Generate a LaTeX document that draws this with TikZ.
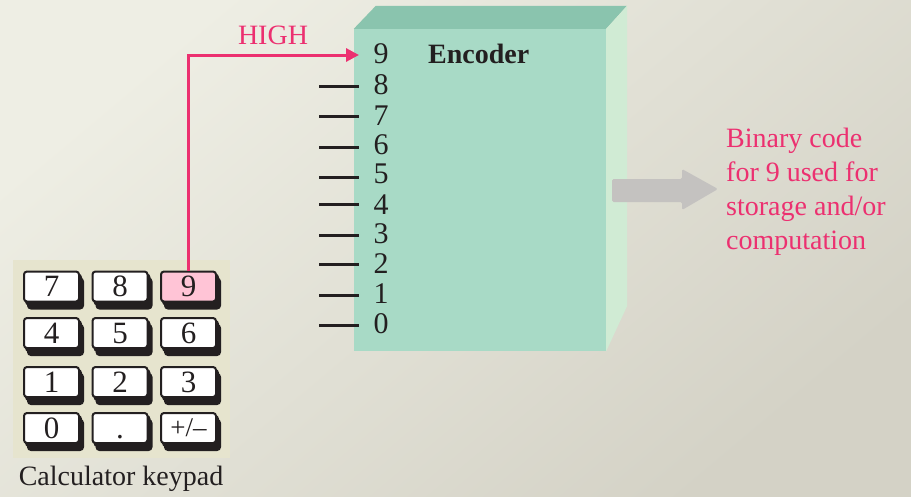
\documentclass[tikz,border=0pt]{standalone}
\usepackage{fontspec}
\setmainfont{Liberation Serif}
\usetikzlibrary{arrows.meta}

\definecolor{bgtop}{RGB}{238,238,228}
\definecolor{bgbot}{RGB}{212,210,198}
\definecolor{padbg}{RGB}{230,228,206}
\definecolor{hot}{RGB}{236,48,112}
\definecolor{keypink}{RGB}{255,196,214}
\definecolor{encfront}{RGB}{168,218,198}
\definecolor{enctop}{RGB}{138,196,174}
\definecolor{encside}{RGB}{208,235,212}
\definecolor{flowgray}{RGB}{196,194,192}
\definecolor{ink}{RGB}{35,31,32}

\begin{document}
\begin{tikzpicture}[x=1pt,y=-1pt,
  keycap/.style={draw=ink, line width=2pt, fill=white, rounded corners=3pt,
    minimum width=55pt, minimum height=30pt, inner sep=0pt,
    font=\fontsize{31}{31}\selectfont, text=ink,
    preaction={fill=ink, draw=ink, transform canvas={shift={(2pt,-3pt)}}},
    preaction={fill=ink, draw=ink, transform canvas={shift={(4pt,-7pt)}}}},
  pinlabel/.style={font=\fontsize{30}{30}\selectfont, text=ink, inner sep=0pt},
  plaintext/.style={font=\fontsize{28}{34}\selectfont, inner sep=0pt},
  stub/.style={draw=ink, line width=3pt},
  highline/.style={draw=hot, line width=3pt, -{Triangle[length=13pt,width=13pt]}}]

% background
\useasboundingbox (0,0) rectangle (911,496);
\shade[top color=bgtop, bottom color=bgbot, shading angle=40] (0,0) rectangle (911,496);

% keypad
\node[fill=padbg, minimum width=217pt, minimum height=198pt, inner sep=0pt] (pad) at (121.5,358.5) {};
\node[keycap] (k7) at (51.5,286.5) {7};
\node[keycap] (k8) at (120,286.5) {8};
\node[keycap, fill=keypink] (k9) at (188.5,286.5) {9};
\node[keycap] (k4) at (51.5,333) {4};
\node[keycap] (k5) at (120,333) {5};
\node[keycap] (k6) at (188.5,333) {6};
\node[keycap] (k1) at (51.5,382) {1};
\node[keycap] (k2) at (120,382) {2};
\node[keycap] (k3) at (188.5,382) {3};
\node[keycap] (k0) at (51.5,428) {0};
\node[keycap] (kdot) at (120,428) {\vphantom{0}.};
\node[keycap, font=\fontsize{27}{27}\selectfont] (kpm) at (188.5,428) {+/--};
\node[plaintext, text=ink, anchor=base] (padcap) at (121,485) {Calculator keypad};

% encoder block: front, top and side faces
\node[fill=encfront, minimum width=252pt, minimum height=322pt, inner sep=0pt] (enc) at (480,190) {};
\fill[enctop] (enc.north west) -- ++(22,-23) -- ++(251,0) -- (enc.north east) -- cycle;
\fill[encside] (enc.north east) -- ++(21,-23) -- ++(0,300) -- (enc.south east) -- cycle;
\node[plaintext, font=\fontsize{28}{34}\selectfont\bfseries, text=ink, anchor=base west] (title) at (428,63) {Encoder};

% inputs
\node[pinlabel] (p9) at (381,54) {9};
\coordinate (in9) at (359,55);
\foreach \d/\ly/\sy in {8/85/86, 7/116/116, 6/145/147, 5/174/177, 4/205/204, 3/234/235, 2/264/264, 1/294/295, 0/324/325} {
  \node[pinlabel] (p\d) at (381,\ly) {\d};
  \coordinate (s\d) at (319,\sy);
  \coordinate (e\d) at (359,\sy);
  \draw[stub] (s\d) -- (e\d);
}

% HIGH line from key 9
\draw[highline] (k9.north) |- (in9);
\node[plaintext, text=hot, anchor=base] (high) at (273,44) {HIGH};

% output arrow
\fill[flowgray, rounded corners=1.5pt] (612,179) -- (682,179) -- (682,169) -- (718,189) -- (682,210) -- (682,202) -- (612,202) -- cycle;
\node[plaintext, text=hot, anchor=north west, align=left] (out) at (726,128)
  {Binary code\\for 9 used for\\storage and/or\\computation};
\end{tikzpicture}
\end{document}
